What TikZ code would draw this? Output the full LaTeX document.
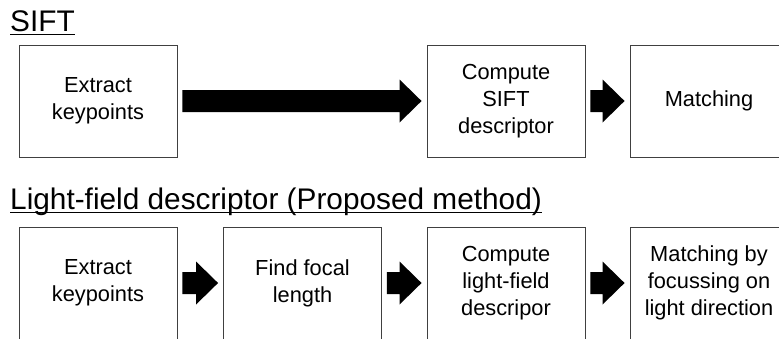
\documentclass[tikz,border=0pt]{standalone}
\usepackage{fontspec}
\setmainfont{Liberation Sans}
\usetikzlibrary{calc}
\tikzset{
  stage/.style={draw=black!75, line width=0.9pt, minimum width=158pt, minimum height=112pt,
    inner sep=0pt, align=center, font=\fontsize{21.8}{27}\selectfont},
  heading/.style={anchor=base west, inner sep=0pt, font=\fontsize{29.8}{34}\selectfont},
  headrule/.style={line width=1.8pt},
  flow/.style={fill=black}
}
% block arrow from the east side of one stage to the west side of the next
\newcommand\flowarrow[2]{%
  \path[flow] let \p1=($(#1.east)+(5pt,0)$), \p2=($(#2.west)+(-5pt,0)$) in
    (\x1,\y1+11pt) -- (\x2-22pt,\y1+11pt) -- (\x2-22pt,\y1+21.5pt) -- (\x2,\y1)
    -- (\x2-22pt,\y1-21.5pt) -- (\x2-22pt,\y1-11pt) -- (\x1,\y1-11pt) -- cycle;}
\begin{document}
\begin{tikzpicture}[x=1pt,y=-1pt]
\useasboundingbox (0,0) rectangle (779,338);
\clip (0,0) rectangle (779,338);

% SIFT pipeline
\node[heading] (t1) at (10,31) {SIFT};
\draw[headrule] ([yshift=-3.5pt]t1.base west) -- ([yshift=-3.5pt]t1.base east);
\node[stage] (a1) at (98,101) {Extract\\keypoints};
\node[stage] (a2) at (506,101) {Compute\\SIFT\\descriptor};
\node[stage] (a3) at (709,101) {Matching};
\flowarrow{a1}{a2}
\flowarrow{a2}{a3}

% light-field pipeline
\node[heading] (t2) at (10,209) {Light-field descriptor (Proposed method)};
\draw[headrule] ([yshift=-3.5pt]t2.base west) -- ([yshift=-3.5pt]t2.base east);
\node[stage] (b1) at (98,283) {Extract\\keypoints};
\node[stage] (b2) at (302.5,283) {Find focal\\length};
\node[stage] (b3) at (506,283) {Compute\\light-field\\descripor};
\node[stage] (b4) at (709,283) {Matching by\\focussing on\\light direction};
\flowarrow{b1}{b2}
\flowarrow{b2}{b3}
\flowarrow{b3}{b4}
\end{tikzpicture}
\end{document}
